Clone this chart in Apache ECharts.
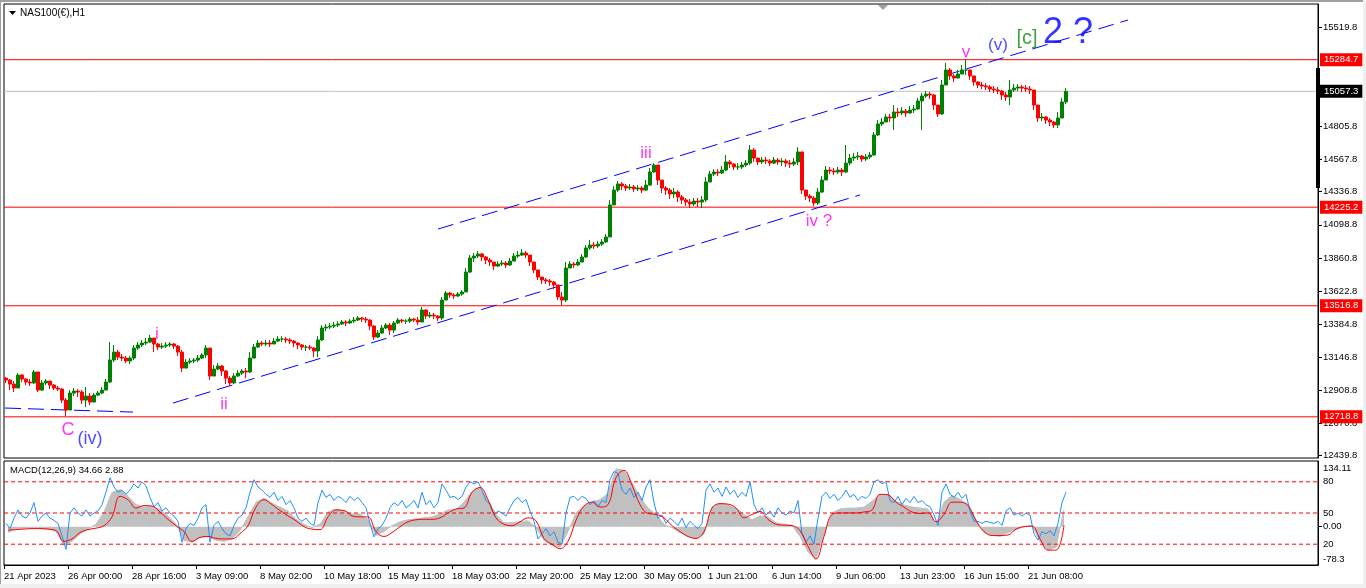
<!DOCTYPE html>
<html><head><meta charset="utf-8">
<script src="https://cdn.jsdelivr.net/npm/echarts@6/dist/echarts.min.js"></script>
<style>html,body{margin:0;padding:0;background:#fff;}#c{width:1366px;height:588px;}</style>
</head><body><div id="c"></div>
<script>
// ---------- data ----------
const timeLabels = ['21 Apr 2023','26 Apr 00:00','28 Apr 16:00','3 May 09:00','8 May 02:00','10 May 18:00','15 May 11:00','18 May 03:00','22 May 20:00','25 May 12:00','30 May 05:00','1 Jun 21:00','6 Jun 14:00','9 Jun 06:00','13 Jun 23:00','16 Jun 15:00','21 Jun 08:00'];
const BARS_PER_LABEL = 64;     // hourly bars between time labels
const BARS_PER_CANDLE = 4;     // each drawn candle groups 4 hourly bars
const BARS_PER_MACD = 8;       // MACD main/signal sampled every 8 bars
const TOTAL_BARS = 1314;

const firstOpen = 12997;
const closes = [
12983,12954,12926,13019,12990,12969,12962,13041,12911,12962,
12976,12947,12926,12918,12839,12768,12890,12904,12897,12839,
12868,12825,12875,12890,12911,12969,13127,13184,13148,13141,
13120,13141,13213,13235,13249,13256,13285,13242,13220,13227,
13235,13242,13227,13184,13069,13112,13120,13127,13141,13163,
13213,13012,13062,13084,13048,12997,12962,13012,13033,13048,
13041,13141,13220,13249,13242,13249,13242,13263,13278,13278,
13271,13263,13249,13235,13220,13220,13213,13192,13271,13357,
13364,13371,13378,13386,13400,13393,13407,13414,13429,13421,
13414,13371,13292,13321,13357,13378,13342,13393,13414,13407,
13407,13421,13414,13400,13486,13443,13450,13443,13429,13558,
13608,13594,13587,13601,13616,13759,13860,13874,13889,13867,
13845,13831,13802,13817,13824,13810,13838,13874,13881,13896,
13881,13831,13774,13723,13702,13695,13687,13666,13580,13558,
13788,13817,13810,13831,13867,13932,13953,13946,13960,13975,
14011,14241,14348,14392,14377,14363,14370,14356,14363,14348,
14384,14478,14528,14420,14363,14348,14320,14334,14298,14277,
14262,14248,14269,14262,14277,14406,14463,14478,14471,14492,
14550,14535,14514,14514,14528,14542,14636,14578,14550,14564,
14557,14542,14564,14550,14557,14542,14535,14550,14622,14348,
14305,14291,14255,14334,14420,14492,14485,14478,14492,14478,
14542,14578,14586,14593,14571,14586,14600,14744,14823,14837,
14873,14866,14909,14902,14916,14902,14923,14931,14988,15024,
15038,15031,14959,14895,15103,15211,15168,15153,15182,15211,
15211,15168,15125,15103,15096,15089,15074,15067,15060,15031,
15017,15067,15081,15089,15081,15074,15067,14959,14866,14873,
14851,14837,14816,14866,14981,15057.3];
const highs = [
13005,12990,12976,13033,13026,12997,12990,13055,13041,12983,
12990,12976,12954,12940,12926,12854,12911,12926,12918,12911,
12933,12890,12890,12904,12933,12990,13256,13235,13199,13170,
13156,13156,13235,13256,13271,13285,13307,13271,13249,13249,
13256,13256,13249,13235,13199,13134,13141,13141,13163,13177,
13235,13213,13091,13105,13091,13055,13012,13033,13055,13062,
13069,13184,13242,13271,13263,13271,13271,13285,13299,13299,
13292,13285,13271,13256,13242,13235,13235,13220,13299,13378,
13386,13393,13400,13407,13414,13414,13421,13436,13443,13436,
13436,13421,13378,13342,13378,13393,13393,13407,13429,13421,
13421,13436,13429,13436,13508,13493,13472,13465,13450,13580,
13623,13616,13608,13616,13630,13788,13881,13896,13910,13896,
13874,13860,13831,13838,13845,13838,13860,13896,13910,13925,
13910,13874,13831,13774,13723,13716,13709,13695,13659,13616,
13831,13838,13831,13853,13889,13953,13989,13975,13982,13996,
14032,14277,14377,14413,14406,14392,14392,14384,14384,14377,
14420,14507,14542,14528,14399,14377,14363,14363,14348,14313,
14291,14284,14291,14291,14305,14442,14485,14499,14499,14521,
14600,14564,14542,14542,14550,14564,14672,14650,14578,14586,
14586,14571,14586,14578,14578,14571,14564,14578,14657,14622,
14348,14320,14305,14363,14449,14521,14514,14507,14514,14507,
14672,14607,14614,14622,14600,14607,14622,14765,14851,14866,
14895,14895,14959,14938,14945,14931,14952,14959,15010,15046,
15060,15053,15038,14952,15139,15261,15225,15182,15211,15247,
15283,15211,15168,15132,15125,15117,15103,15096,15089,15067,
15053,15139,15110,15110,15103,15103,15096,15067,14938,14902,
14880,14866,14844,14909,15010,15081];
const lows = [
12962,12911,12897,12940,12969,12947,12940,12954,12897,12904,
12947,12918,12911,12904,12818,12724,12782,12868,12861,12811,
12789,12803,12854,12868,12883,12911,12962,13112,13127,13120,
13105,13098,13127,13199,13220,13235,13249,13184,13199,13206,
13213,13220,13206,13156,13041,13069,13098,13105,13112,13134,
13141,12983,13019,13055,13012,12954,12940,12954,13005,13019,
12997,13033,13156,13213,13227,13227,13220,13242,13256,13256,
13249,13242,13220,13206,13199,13192,13199,13148,13148,13263,
13335,13350,13357,13364,13378,13371,13386,13393,13407,13400,
13393,13342,13271,13285,13314,13350,13307,13321,13386,13393,
13386,13393,13400,13378,13400,13421,13429,13421,13407,13414,
13565,13572,13565,13580,13587,13616,13752,13831,13860,13838,
13817,13802,13774,13795,13802,13788,13802,13845,13860,13874,
13860,13802,13752,13702,13673,13673,13659,13637,13558,13522,
13544,13788,13788,13802,13838,13860,13917,13925,13932,13946,
13968,14011,14241,14334,14348,14341,14348,14334,14341,14327,
14341,14377,14471,14384,14327,14313,14284,14291,14262,14248,
14234,14219,14234,14226,14219,14262,14406,14449,14449,14463,
14485,14507,14492,14492,14499,14514,14528,14550,14528,14535,
14535,14521,14535,14528,14521,14514,14507,14521,14528,14320,
14277,14262,14234,14241,14327,14420,14463,14456,14463,14449,
14471,14528,14557,14564,14550,14557,14571,14593,14736,14808,
14837,14837,14780,14873,14887,14873,14895,14902,14923,14780,
15010,15002,14923,14873,14887,15103,15139,15125,15153,15182,
15175,15139,15096,15081,15074,15067,15053,15046,15038,14995,
14988,14959,15053,15060,15053,15053,15038,14923,14837,14844,
14823,14808,14794,14794,14887,14966];

const priceTicks = [12439.8,12670.8,12908.8,13146.8,13384.8,13622.8,13860.8,14098.8,14336.8,14567.8,14805.8,15519.8];
const levels = [15284.7, 14225.2, 13516.8, 12718.8];
const lastPrice = 15057.3;
const dayRange = [15225, 14363];

const macdMain = [
-12,-5,-3,-2,-4,-5,-10,-38,-30,-15,
-5,5,30,70,76,62,45,40,42,35,
22,5,-28,-32,-22,-20,-28,-30,-25,-8,
20,50,58,48,40,32,15,5,-2,5,
30,36,32,26,26,15,-18,-10,2,10,
14,16,18,20,26,34,35,50,72,80,
55,25,8,8,10,12,-2,-28,-38,-42,
-10,28,42,50,55,68,118,115,90,60,
38,25,5,-2,-12,-20,-25,-15,40,48,
44,38,25,14,22,20,8,5,3,-20,
-52,-66,-15,28,36,38,38,40,52,66,
66,52,44,40,38,36,5,50,64,56,
45,15,-12,-18,-20,-12,-6,0,3,-30,
-48,-42,34.66];
const macdSignal = [
-7,-6,-5,-4,-4,-5,-8,-30,-25,-12,
-6,-3,2,20,62,55,38,43,42,30,
15,2,-10,-30,-22,-20,-24,-25,-25,-14,
2,40,55,45,33,22,12,0,-5,-6,
20,34,33,22,20,20,-10,-20,-12,0,
10,14,15,15,18,28,36,38,70,80,
55,18,5,2,10,18,12,-24,-36,-45,
-30,13,42,50,40,45,100,115,85,45,
27,25,18,2,-10,-20,-24,-10,38,47,
46,38,18,25,31,15,5,3,2,-8,
-40,-66,-20,25,28,28,28,30,34,66,
65,50,40,30,27,28,10,25,50,50,
43,12,-10,-18,-18,-17,-5,0,1,-25,
-48,-48,2.88];
const oscLine = [
40,35,45,53,47,45,50,60,42,47,
50,45,43,40,28,15,50,55,50,47,
53,47,50,52,58,70,84,75,70,72,
68,72,78,74,80,76,65,56,60,52,
55,50,47,42,22,35,40,38,45,55,
58,22,38,42,35,30,28,38,45,48,
55,70,82,75,72,68,65,70,62,66,
58,62,55,45,42,45,40,38,60,72,
65,68,62,66,64,60,66,62,65,60,
55,40,27,35,38,45,55,60,57,62,
55,58,62,55,70,58,62,55,60,78,
72,65,66,63,66,75,80,78,80,72,
62,58,48,52,50,47,55,62,65,60,
63,52,42,25,30,35,28,32,22,20,
50,65,66,62,66,64,58,62,56,62,
60,82,90,88,72,68,74,65,70,62,
75,82,60,45,48,40,45,42,38,45,
36,42,38,35,40,72,78,70,74,66,
75,68,72,65,70,66,80,58,50,55,
48,52,46,55,50,48,52,50,62,30,
22,28,20,45,66,70,64,68,62,66,
72,65,68,62,66,64,68,80,82,78,
80,62,60,66,58,64,60,66,60,62,
58,56,48,38,70,78,68,65,70,64,
68,52,42,42,40,42,41,40,42,38,
52,55,48,50,47,50,48,30,24,32,
30,33,28,40,60,70];
const oscLevels = [20, 50, 80];
const macdTicks = [-78.3, 0, 134.11];
const macdTickText = ['-78.3', '0.00', '134.11'];

// trend lines: [barFrom, priceFrom, barTo, priceTo]
const trendLines = [[1,12782,129,12753],[169,12818,856,14313],[434,14068,1124,15570]];
// wave labels: [text, bar, price]
const waveLabels = [['C',64,12624],['(iv)',86,12559],['i',153,13314],['ii',220,12811],['iii',642,14614],['iv ?',815,14126],['v',962,15340],['(v)',994,15390],['[c]',1023,15434],['2 ?',1064,15477]];

// ---------- build ----------
const FONT = 'Liberation Sans';
const candleData = closes.map((c, i) => [BARS_PER_CANDLE*i + BARS_PER_CANDLE/2, i === 0 ? firstOpen : closes[i-1], c, lows[i], highs[i]]);
const macdMainData = macdMain.map((v, j) => [BARS_PER_MACD*j + BARS_PER_MACD/2, v]);
const macdSignalData = macdSignal.map((v, j) => [BARS_PER_MACD*j + BARS_PER_MACD/2, v]);
const oscData = oscLine.map((v, i) => [BARS_PER_CANDLE*i + BARS_PER_CANDLE/2, v]);
const xTickValues = timeLabels.map((_, k) => k * BARS_PER_LABEL);

const waveStyle = {'C':['#ff00ff',18],'(iv)':['#2020ff',18],'i':['#ff00ff',17],'ii':['#ff00ff',17],'iii':['#ff00ff',17],'iv ?':['#ff00ff',17],'v':['#ff00ff',17],'(v)':['#2020ff',17],'[c]':['#108a10',20],'2 ?':['#0000ff',36]};
const waveData = waveLabels.map(w => ({
  value: [w[1], w[2]],
  label: {show: true, position: 'inside', formatter: w[0], color: waveStyle[w[0]][0], fontSize: waveStyle[w[0]][1], fontFamily: FONT}
}));

const lineBase = {type: 'line', showSymbol: false, symbol: 'none', silent: true, animation: false};
const priceLine = (v, color, bg) => Object.assign({}, lineBase, {
  xAxisIndex: 0, yAxisIndex: 0, clip: false, z: 3,
  data: [[0, v], [TOTAL_BARS, v]],
  lineStyle: {color: color, width: 1, type: 'solid'},
  endLabel: {show: true, distance: 2, formatter: () => String(v), backgroundColor: bg, color: '#fff', padding: [2,4,1,4], fontSize: 9.5, fontFamily: FONT}
});

const series = [];
series.push(priceLine(lastPrice, '#c0c0c0', '#000'));
levels.forEach(v => series.push(priceLine(v, '#ff0000', '#ff0000')));
trendLines.forEach(t => series.push(Object.assign({}, lineBase, {
  xAxisIndex: 0, yAxisIndex: 0, z: 4, data: [[t[0], t[1]], [t[2], t[3]]],
  lineStyle: {color: '#0000ff', width: 1, type: [16,7]}
})));
series.push(Object.assign({}, lineBase, {
  xAxisIndex: 0, yAxisIndex: 0, clip: false, z: 6, data: [[TOTAL_BARS, dayRange[0]], [TOTAL_BARS, dayRange[1]]],
  lineStyle: {color: '#000', width: 4, type: 'solid', cap: 'butt'}
}));
series.push({type: 'candlestick', xAxisIndex: 0, yAxisIndex: 0, data: candleData, barWidth: 4, clip: false, silent: true, z: 5,
  itemStyle: {color: '#008000', color0: '#ff0000', borderColor: '#008000', borderColor0: '#ff0000', borderWidth: 1}});
series.push({type: 'scatter', xAxisIndex: 0, yAxisIndex: 0, data: waveData, symbolSize: 1, itemStyle: {color: 'rgba(0,0,0,0)'}, silent: true, z: 7});
series.push(Object.assign({}, lineBase, {xAxisIndex: 1, yAxisIndex: 1, data: macdMainData, z: 1,
  lineStyle: {color: '#c0c0c0', width: 1}, areaStyle: {color: '#c0c0c0', opacity: 1}}));
oscLevels.forEach(v => series.push(Object.assign({}, lineBase, {
  xAxisIndex: 1, yAxisIndex: 2, z: 2, data: [[0, v], [TOTAL_BARS, v]],
  lineStyle: {color: '#ff0000', width: 1, type: [4,3]}
})));
series.push(Object.assign({}, lineBase, {xAxisIndex: 1, yAxisIndex: 2, data: oscData, z: 3,
  lineStyle: {color: '#1e90ff', width: 1}}));
series.push(Object.assign({}, lineBase, {xAxisIndex: 1, yAxisIndex: 1, data: macdSignalData, z: 4, smooth: 0.4,
  lineStyle: {color: '#ff0000', width: 1}}));

const axisText = {fontSize: 9.5, fontFamily: FONT, color: '#000'};
const chart = echarts.init(document.getElementById('c'), null, {renderer: 'canvas'});
chart.setOption({
  animation: false,
  backgroundColor: '#fff',
  textStyle: {fontFamily: FONT},
  grid: [
    {left: 4, top: 4, width: 1314, height: 454, show: true, borderColor: '#000', borderWidth: 1, containLabel: false, outerBoundsMode: 'none'},
    {left: 4, top: 461, width: 1314, height: 104, show: true, borderColor: '#000', borderWidth: 1, containLabel: false, outerBoundsMode: 'none'}
  ],
  xAxis: [
    {type: 'value', gridIndex: 0, min: 0, max: TOTAL_BARS, show: false, splitLine: {show: false}},
    {type: 'value', gridIndex: 1, min: 0, max: TOTAL_BARS,
     axisLine: {show: true, onZero: false, lineStyle: {color: '#000'}},
     splitLine: {show: false},
     axisTick: {show: true, length: 4, customValues: xTickValues, lineStyle: {color: '#000'}},
     axisLabel: Object.assign({customValues: xTickValues, formatter: v => timeLabels[Math.round(v / BARS_PER_LABEL)], align: 'left', margin: 6}, axisText)}
  ],
  yAxis: [
    {type: 'value', gridIndex: 0, position: 'right', min: 12423, max: 15685,
     axisLine: {show: true, onZero: false, lineStyle: {color: '#000'}}, splitLine: {show: false},
     axisTick: {show: true, length: 4, customValues: priceTicks, lineStyle: {color: '#000'}},
     axisLabel: Object.assign({customValues: priceTicks, formatter: v => v.toFixed(1), margin: 5}, axisText)},
    {type: 'value', gridIndex: 1, position: 'right', min: -78.3, max: 134.11,
     axisLine: {show: true, onZero: false, lineStyle: {color: '#000'}}, splitLine: {show: false},
     axisTick: {show: true, length: 4, customValues: [0], lineStyle: {color: '#000'}},
     axisLabel: Object.assign({customValues: macdTicks, margin: 5,
       formatter: v => { const k = macdTicks.indexOf(v); const t = macdTickText[k]; return k === 2 ? '{top|' + t + '}' : (k === 0 ? '{bot|' + t + '}' : t); },
       rich: {top: {padding: [14,0,0,0], fontSize: 9.5, fontFamily: FONT, color: '#000'}, bot: {padding: [0,0,12,0], fontSize: 9.5, fontFamily: FONT, color: '#000'}}}, axisText)},
    {type: 'value', gridIndex: 1, position: 'right', min: 0, max: 100,
     axisLine: {show: false, onZero: false}, axisTick: {show: false}, splitLine: {show: false},
     axisLabel: Object.assign({customValues: oscLevels, margin: 5}, axisText)}
  ],
  series: series,
  graphic: [
    {type: 'rect', silent: true, shape: {x: 0, y: 0, width: 1366, height: 2}, style: {fill: '#a0a0a0'}},
    {type: 'rect', silent: true, shape: {x: 0, y: 0, width: 1, height: 588}, style: {fill: '#a0a0a0'}},
    {type: 'rect', silent: true, shape: {x: 0, y: 584, width: 1366, height: 4}, style: {fill: '#f0f0f0'}},
    {type: 'rect', silent: true, shape: {x: 1363, y: 0, width: 3, height: 588}, style: {fill: '#f0f0f0'}},
    {type: 'polygon', silent: true, shape: {points: [[9,11],[16,11],[12.5,15]]}, style: {fill: '#000'}},
    {type: 'polygon', silent: true, shape: {points: [[878,5],[888,5],[883,10]]}, style: {fill: '#a0a0a0'}},
    {type: 'text', silent: true, x: 20, y: 13, z: 100, style: {text: 'NAS100(€),H1', fontSize: 10, fontFamily: FONT, fill: '#000', verticalAlign: 'middle'}},
    {type: 'text', silent: true, x: 10, y: 470, z: 100, style: {text: 'MACD(12,26,9) 34.66 2.88', fontSize: 9.5, fontFamily: FONT, fill: '#000', verticalAlign: 'middle'}}
  ]
});
</script>
</body></html>
